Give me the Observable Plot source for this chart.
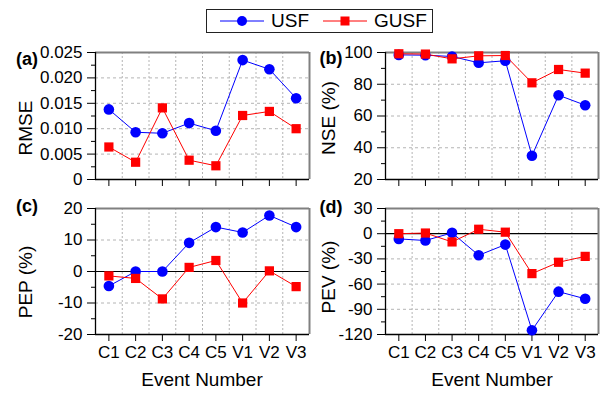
<!DOCTYPE html>
<html>
<head>
<meta charset="utf-8">
<script src="https://cdn.jsdelivr.net/npm/d3@7"></script>
<script src="https://cdn.jsdelivr.net/npm/@observablehq/plot@0.6"></script>
<style>
  html, body { margin: 0; padding: 0; background: #fff; }
  #wrap { position: relative; width: 603px; height: 394px; font-family: "Liberation Sans", Arial, sans-serif; color: #000; overflow: hidden; }
  .panel { position: absolute; }
  .lbl { position: absolute; white-space: nowrap; line-height: 1; }
  .rot { transform: translate(-50%, -50%) rotate(-90deg); }
  .ctr { transform: translate(-50%, -50%); }
  #legend { position: absolute; left: 206px; top: 9px; width: 225px; height: 22px; border: 1px solid #222; display: flex; align-items: center; font-size: 19px; }
  #legend .item { display: flex; align-items: center; }
</style>
</head>
<body>
<div id="wrap"></div>
<script>
// ---- data ----
const events = ["C1", "C2", "C3", "C4", "C5", "V1", "V2", "V3"];
const seriesNames = ["USF", "GUSF"];

const rmseUSF  = [0.0138, 0.0093, 0.0091, 0.0111, 0.0096, 0.0235, 0.0217, 0.0160];
const rmseGUSF = [0.0064, 0.0034, 0.0141, 0.0038, 0.0027, 0.0126, 0.0134, 0.0100];

const nseUSF  = [98.5, 98.3, 97.5, 93.5, 94.8, 35.0, 73.1, 66.8];
const nseGUSF = [99.2, 99.0, 96.0, 97.9, 98.1, 80.9, 89.3, 87.0];

const pepUSF  = [-4.6, 0.0, 0.0, 9.1, 14.1, 12.4, 17.8, 14.1];
const pepGUSF = [-1.4, -2.2, -8.7, 1.3, 3.5, -10.0, 0.2, -4.8];

const pevUSF  = [-6.2, -8.1, 1.0, -25.7, -13.0, -115.0, -69.0, -77.5];
const pevGUSF = [0.0, 0.8, -9.8, 5.3, 1.8, -47.5, -34.0, -27.0];

const rmseTicks = [0, 0.005, 0.010, 0.015, 0.020, 0.025];
const nseTicks  = [20, 40, 60, 80, 100];
const pepTicks  = [-20, -10, 0, 10, 20];
const pevTicks  = [-120, -90, -60, -30, 0, 30];

const axisTitles = ["RMSE", "NSE (%)", "PEP (%)", "PEV (%)"];
const panelTags = ["(a)", "(b)", "(c)", "(d)"];
const xTitle = "Event Number";

// ---- drawing ----
const BLUE = "#0000ff", RED = "#ff0000", GRID = "#b4b4b4", FRAME = "#808080";
const xIdx = events.map((_, i) => i + 1);
const bandEdges = xIdx.slice(0, -1).map(i => i + 0.5);
const mids = t => t.slice(0, -1).map((v, i) => (v + t[i + 1]) / 2);

function panel({usf, gusf, ticks, fmt, zero, showX, width, height, mt, mb, mr}) {
  const domain = [ticks[0], ticks[ticks.length - 1]];
  const grid = ticks.slice(1, -1).filter(v => !(zero && v === 0));
  const xf = (d, i) => i + 1;
  const yf = d => d;
  return Plot.plot({
    width, height,
    marginLeft: 95, marginRight: mr, marginTop: mt, marginBottom: mb,
    style: {fontFamily: "'Liberation Sans', Arial, sans-serif", fontSize: "17px", background: "transparent", overflow: "visible", color: "#000"},
    x: {domain: [0.5, 8.5], axis: null},
    y: {domain, axis: null},
    marks: [
      Plot.ruleY(grid, {stroke: GRID, strokeDasharray: "3,3", strokeWidth: 1}),
      Plot.ruleX(bandEdges, {stroke: GRID, strokeDasharray: "2,2", strokeWidth: 1}),
      zero ? Plot.ruleY([0], {stroke: "#000", strokeWidth: 1.2}) : null,
      Plot.ruleY([domain[1]], {stroke: FRAME, strokeWidth: 2}),
      Plot.ruleX([8.5], {stroke: FRAME, strokeWidth: 2}),
      Plot.axisY({ticks, tickSize: 8, tickPadding: 5, tickFormat: fmt, label: null, fontSize: 17}),
      Plot.axisY({ticks: mids(ticks), tickSize: 4, tickFormat: () => "", label: null}),
      Plot.axisX({ticks: xIdx, tickSize: 7, tickPadding: 4, tickFormat: showX ? (i => events[i - 1]) : (() => ""), label: null, fontSize: 17}),
      Plot.ruleX([0.5], {stroke: "#000", strokeWidth: 1.3}),
      Plot.ruleY([domain[0]], {stroke: "#000", strokeWidth: 1.3}),
      Plot.lineY(usf, {x: xf, y: yf, stroke: BLUE, strokeWidth: 1}),
      Plot.dot(usf, {x: xf, y: yf, r: 5.3, fill: BLUE, stroke: null}),
      Plot.lineY(gusf, {x: xf, y: yf, stroke: RED, strokeWidth: 1}),
      Plot.dot(gusf, {x: xf, y: yf, r: 5.2, symbol: "square", fill: RED, stroke: null})
    ]
  });
}

const wrap = document.getElementById("wrap");
function place(node, left, top) {
  const d = document.createElement("div");
  d.className = "panel";
  d.style.left = left + "px";
  d.style.top = top + "px";
  d.appendChild(node);
  wrap.appendChild(d);
}
function label(text, x, y, cls, size, bold) {
  const d = document.createElement("div");
  d.className = "lbl " + cls;
  d.style.left = x + "px";
  d.style.top = y + "px";
  d.style.fontSize = size + "px";
  if (bold) d.style.fontWeight = "bold";
  d.textContent = text;
  wrap.appendChild(d);
}

const fmtRmse = d => d === 0 ? "0" : d.toFixed(3);
const fmtInt = d => String(d);

place(panel({usf: rmseUSF, gusf: rmseGUSF, ticks: rmseTicks, fmt: fmtRmse, zero: false, showX: false, width: 312, height: 150, mt: 12, mb: 11, mr: 3}), 0, 40);
place(panel({usf: nseUSF, gusf: nseGUSF, ticks: nseTicks, fmt: fmtInt, zero: false, showX: false, width: 312, height: 150, mt: 12, mb: 11, mr: 4}), 290, 40);
place(panel({usf: pepUSF, gusf: pepGUSF, ticks: pepTicks, fmt: fmtInt, zero: true, showX: true, width: 312, height: 198, mt: 12, mb: 60, mr: 3}), 0, 196);
place(panel({usf: pevUSF, gusf: pevGUSF, ticks: pevTicks, fmt: fmtInt, zero: true, showX: true, width: 312, height: 198, mt: 12, mb: 60, mr: 4}), 290, 196);

// axis titles
label(axisTitles[0], 25, 128, "rot", 19);
label(axisTitles[1], 328, 118, "rot", 19);
label(axisTitles[2], 25, 282, "rot", 19);
label(axisTitles[3], 328, 277, "rot", 19);
label(xTitle, 202, 379, "ctr", 19);
label(xTitle, 492, 379, "ctr", 19);
// panel tags
label(panelTags[0], 27, 59, "ctr", 18, true);
label(panelTags[1], 331, 58, "ctr", 18, true);
label(panelTags[2], 27, 206, "ctr", 18, true);
label(panelTags[3], 331, 207, "ctr", 18, true);

// legend
const legend = document.createElement("div");
legend.id = "legend";
const ns = "http://www.w3.org/2000/svg";
seriesNames.forEach((name, k) => {
  const item = document.createElement("div");
  item.className = "item";
  item.style.marginLeft = k === 0 ? "13px" : "14px";
  const svg = document.createElementNS(ns, "svg");
  svg.setAttribute("width", 44); svg.setAttribute("height", 14);
  const ln = document.createElementNS(ns, "line");
  ln.setAttribute("x1", 0); ln.setAttribute("x2", 44); ln.setAttribute("y1", 7); ln.setAttribute("y2", 7);
  ln.setAttribute("stroke", k === 0 ? BLUE : RED); ln.setAttribute("stroke-width", 1);
  svg.appendChild(ln);
  if (k === 0) {
    const c = document.createElementNS(ns, "circle");
    c.setAttribute("cx", 22); c.setAttribute("cy", 7); c.setAttribute("r", 5); c.setAttribute("fill", BLUE);
    svg.appendChild(c);
  } else {
    const r = document.createElementNS(ns, "rect");
    r.setAttribute("x", 17.5); r.setAttribute("y", 2.5); r.setAttribute("width", 9); r.setAttribute("height", 9); r.setAttribute("fill", RED);
    svg.appendChild(r);
  }
  item.appendChild(svg);
  const t = document.createElement("span");
  t.textContent = name;
  t.style.marginLeft = "7px";
  item.appendChild(t);
  legend.appendChild(item);
});
wrap.appendChild(legend);
</script>
</body>
</html>
